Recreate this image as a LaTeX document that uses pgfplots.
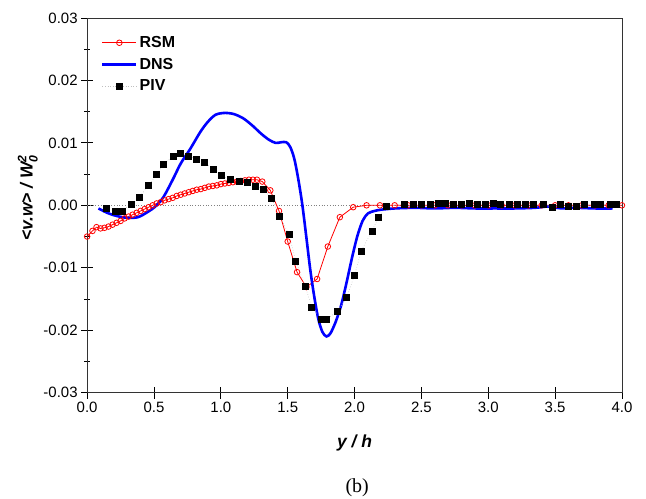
\documentclass[border=0pt]{standalone}
\usepackage{amsmath}
\usepackage{pgfplots}
\pgfplotsset{compat=1.18}
\usepackage{fontspec}
\setmainfont{Liberation Sans}
\newfontfamily\timesfont{Liberation Serif}
\begin{document}
\begin{tikzpicture}
\useasboundingbox (-87bp,-106bp) rectangle (558bp,392bp);
\begin{axis}[
  width=534bp, height=374bp, scale only axis,
  at={(0,0)}, anchor=south west,
  xmin=0, xmax=4, ymin=-0.03, ymax=0.03,
  xtick={0,0.5,1,1.5,2,2.5,3,3.5,4},
  ytick={-0.03,-0.02,-0.01,0,0.01,0.02,0.03},
  minor y tick num=1,
  xtick pos=bottom, ytick pos=left,
  tick align=center,
  major tick length=12bp, minor tick length=6bp,
  tick style={black, line width=0.8bp},
  axis line style={line width=0.9bp, black!80},
  /pgf/number format/assume math mode=true,
  every tick label/.append style={font=\fontsize{15}{18}\selectfont},
  x tick label style={/pgf/number format/.cd, fixed, fixed zerofill, precision=1},
  y tick label style={/pgf/number format/.cd, fixed, fixed zerofill, precision=2},
  scaled y ticks=false,
  xlabel={\textbf{\textit{y / h}}},
  ylabel={\textbf{\textit{<v.w> / W$_{\text{0}}^{\text{2}}$}}},
  every axis label/.append style={font=\fontsize{17.5}{20}\selectfont},
  x label style={at={(axis description cs:0.50,-0.135)}, anchor=center},
  y label style={at={(axis description cs:-0.111,0.52)}, anchor=center},
  legend style={at={(axis description cs:0.02,0.962)}, anchor=north west,
    draw=none, fill=none, font=\fontsize{16}{19}\selectfont\bfseries,
    row sep=5bp},
  legend cell align=left,
  legend image code/.code={\draw[mark repeat=2,mark phase=2] plot coordinates {(0bp,0bp) (17bp,0bp) (34bp,0bp)};},
  clip=false,
]
\addplot[gray, dotted, line width=0.7bp, forget plot] coordinates {(0,0) (4,0)};

\addplot[red, line width=0.8bp, mark=o, mark size=2.8bp, mark options={solid, fill=white, line width=0.8bp}] coordinates {
(0.00,-0.0050) (0.04,-0.0041) (0.07,-0.0035) (0.10,-0.0037) (0.13,-0.0036)
(0.16,-0.0034) (0.19,-0.0031) (0.22,-0.0028) (0.25,-0.0025) (0.28,-0.0021)
(0.31,-0.0018) (0.34,-0.0015) (0.37,-0.0012) (0.40,-0.0009) (0.43,-0.0006)
(0.46,-0.0003) (0.49,0.0000) (0.52,0.0003) (0.55,0.0005) (0.58,0.0008)
(0.61,0.0010) (0.64,0.0012) (0.67,0.0015) (0.70,0.0017) (0.73,0.0019)
(0.76,0.0021) (0.79,0.0023) (0.82,0.0025) (0.85,0.0026) (0.88,0.0028)
(0.91,0.0030) (0.94,0.0031) (0.97,0.0032) (1.00,0.0034) (1.03,0.0035)
(1.06,0.0036) (1.09,0.0037) (1.12,0.0038) (1.15,0.0039) (1.18,0.0040)
(1.21,0.0041) (1.24,0.0041) (1.27,0.0041) (1.31,0.0038) (1.37,0.0024)
(1.435,-0.0009) (1.50,-0.0058) (1.57,-0.0107) (1.64,-0.0131) (1.72,-0.0118)
(1.80,-0.0066) (1.89,-0.0019) (1.99,-0.0003) (2.09,0.0000) (2.19,0.0000)
(2.30,0.0000) (2.40,0.0000) (2.50,0.0000) (2.60,0.0000) (2.70,0.0000)
(2.80,0.0000) (2.90,0.0000) (3.00,0.0000) (3.10,0.0000) (3.20,0.0000)
(3.30,0.0000) (3.40,0.0000) (3.50,0.0000) (3.60,0.0000) (3.70,0.0000)
(3.80,0.0000) (3.90,0.0000) (4.00,0.0000)
};
\addlegendentry{RSM}

\addplot[blue, line width=2.6bp, smooth, tension=0.5, no marks] coordinates {
(0.085,-0.0005) (0.15,-0.0012) (0.22,-0.0017) (0.30,-0.0020) (0.38,-0.0019)
(0.45,-0.0011) (0.51,-0.0002) (0.57,0.0013) (0.64,0.0041) (0.70,0.0067)
(0.77,0.0090) (0.845,0.0117) (0.90,0.0133) (0.96,0.0145) (1.03,0.0148)
(1.10,0.0146) (1.17,0.0139) (1.24,0.0127) (1.30,0.0115) (1.36,0.0105)
(1.41,0.0100) (1.45,0.0101) (1.49,0.0101) (1.52,0.0093) (1.55,0.0074)
(1.58,0.0041) (1.61,0.0000) (1.64,-0.0052) (1.67,-0.0105) (1.70,-0.0148)
(1.73,-0.0183) (1.76,-0.0203) (1.79,-0.0210) (1.82,-0.0205) (1.86,-0.0186)
(1.90,-0.0160) (1.94,-0.0124) (1.98,-0.0085) (2.02,-0.0050) (2.06,-0.0025)
(2.10,-0.0013) (2.15,-0.0009) (2.20,-0.0007) (2.30,-0.0005) (2.45,-0.0004)
(2.60,-0.0005) (2.75,-0.0004) (2.90,-0.0005) (3.05,-0.0005) (3.20,-0.0005)
(3.35,-0.0004) (3.45,-0.0002) (3.55,-0.0005) (3.65,-0.0004) (3.80,-0.0005)
(3.93,-0.0005)
};
\addlegendentry{DNS}

\addplot[black!25, dotted, line width=0.6bp, mark=square*, mark size=3bp, mark options={solid, black}] coordinates {
(0.147,-0.0005) (0.21,-0.0009) (0.26,-0.0009) (0.33,0.0002) (0.39,0.0013)
(0.46,0.0032) (0.52,0.0049) (0.57,0.0066) (0.645,0.0079) (0.70,0.0084)
(0.76,0.0079) (0.82,0.0074) (0.875,0.0069) (0.944,0.0058) (1.00,0.0048)
(1.07,0.0041) (1.14,0.0039) (1.20,0.0037) (1.256,0.0031) (1.32,0.0026)
(1.38,0.0011) (1.44,-0.0017) (1.51,-0.0047) (1.56,-0.0089) (1.63,-0.0129)
(1.68,-0.0163) (1.755,-0.0183) (1.79,-0.0183) (1.87,-0.0170) (1.94,-0.0148)
(2.00,-0.0112) (2.05,-0.0073) (2.13,-0.0041) (2.18,-0.0019) (2.235,-0.0002)
(2.37,0.0002) (2.44,0.0001) (2.50,0.0001) (2.57,0.0001) (2.625,0.0003)
(2.68,0.0003) (2.74,0.0001) (2.80,0.0001) (2.86,0.0003) (2.92,0.0002)
(2.98,0.0002) (3.04,0.0004) (3.09,0.0001) (3.16,0.0001) (3.22,0.0001)
(3.28,0.0001) (3.34,0.0001) (3.41,0.0001) (3.48,-0.0003) (3.54,0.0001)
(3.60,-0.0001) (3.66,-0.0002) (3.72,0.0001) (3.79,0.0001) (3.84,0.0001)
(3.91,0.0001) (3.96,0.0002)
};
\addlegendentry{PIV}

\node[font=\timesfont\fontsize{20}{23}\selectfont] at (axis description cs:0.505,-0.253) {(b)};
\end{axis}
\end{tikzpicture}
\end{document}
